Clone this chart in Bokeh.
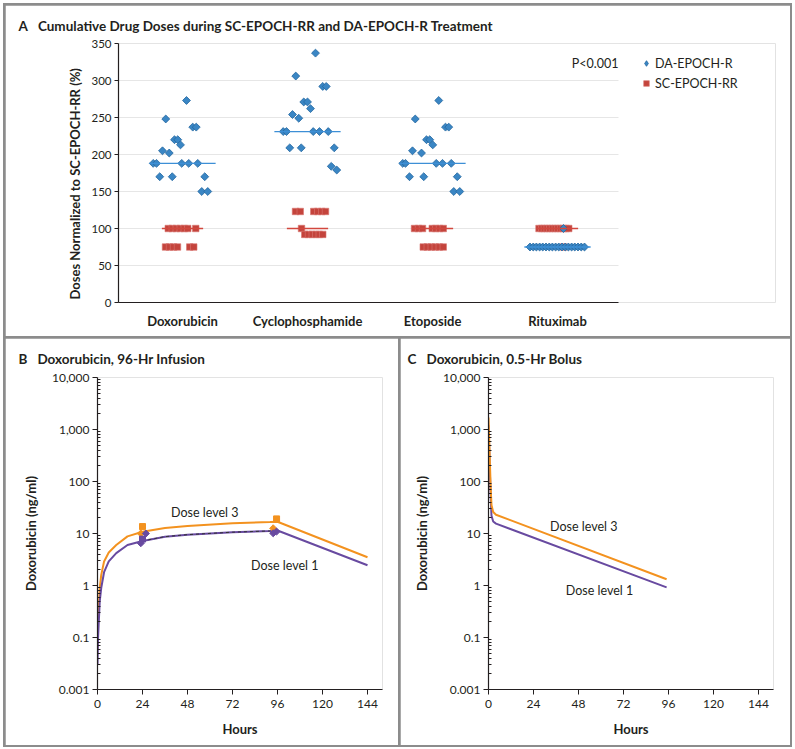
import math
from bokeh.plotting import figure
from bokeh.models import Range1d, FixedTicker, Label, Legend, LegendItem, ColumnDataSource, Title
from bokeh.layouts import column, row
from bokeh.embed import file_html
from bokeh.resources import INLINE

FONT = "Lato"
INK = "#231f20"
BLUE = "#3a86c4"
BLUE_EDGE = "#22669f"
BLUE_LINE = "#3d8fd6"
RED = "#c4443c"
RED_EDGE = "#d97670"
RED_LINE = "#d2473e"
ORANGE = "#f3921f"
PURPLE = "#684aa0"
GRID = "#e6e6e6"

# ---------------- Panel A data ----------------
categories = ["Doxorubicin", "Cyclophosphamide", "Etoposide", "Rituximab"]
a_yticks = [0, 50, 100, 150, 200, 250, 300, 350]

# DA-EPOCH-R (values in % of SC-EPOCH-RR, jitter as fraction of category spacing)
da_dox_vals = [273, 248, 237, 237, 220, 220, 213, 205, 202, 188, 188, 188, 188, 188, 170, 170, 170, 150, 150]
da_dox_jit = [0.032, -0.134, 0.082, 0.110, -0.064, -0.038, -0.016, -0.160, -0.106, -0.234, -0.208, -0.006, 0.050, 0.122, -0.182, -0.082, 0.178, 0.154, 0.202]
da_cyc_vals = [337, 306, 292, 292, 271, 271, 262, 254, 249, 231, 231, 231, 231, 231, 209, 209, 209, 184, 179]
da_cyc_jit = [0.064, -0.094, 0.122, 0.150, -0.030, 0.000, 0.024, -0.120, -0.070, -0.194, -0.168, 0.046, 0.096, 0.166, -0.142, -0.050, 0.214, 0.190, 0.234]
da_eto_vals = [273, 248, 237, 237, 220, 220, 213, 205, 202, 188, 188, 188, 188, 188, 170, 170, 170, 150, 150]
da_eto_jit = [0.050, -0.138, 0.104, 0.130, -0.048, -0.022, 0.002, -0.160, -0.088, -0.238, -0.216, 0.030, 0.080, 0.150, -0.184, -0.070, 0.198, 0.170, 0.218]
da_rit_vals = [100, 75, 75, 75, 75, 75, 75, 75, 75, 75, 75, 75, 75, 75, 75, 75, 75, 75, 75]
da_rit_jit = [0.048, -0.220, -0.194, -0.169, -0.143, -0.118, -0.092, -0.066, -0.041, -0.015, 0.010, 0.036, 0.062, 0.087, 0.113, 0.138, 0.164, 0.190, 0.216]

# SC-EPOCH-RR
sc_dox_vals = [100, 100, 100, 100, 100, 100, 100, 75, 75, 75, 75, 75, 75]
sc_dox_jit = [-0.114, -0.082, -0.050, -0.018, 0.014, 0.042, 0.106, -0.136, -0.104, -0.072, -0.040, 0.058, 0.090]
sc_cyc_vals = [123, 123, 123, 123, 123, 123, 100, 92, 92, 92, 92, 92, 92]
sc_cyc_jit = [-0.096, -0.058, 0.050, 0.082, 0.114, 0.144, -0.048, -0.022, 0.008, 0.038, 0.066, 0.094, 0.122]
sc_eto_vals = [100, 100, 100, 100, 100, 100, 100, 75, 75, 75, 75, 75, 75]
sc_eto_jit = [-0.144, -0.112, -0.080, -0.002, 0.026, 0.056, 0.086, -0.074, -0.042, -0.010, 0.022, 0.054, 0.086]
sc_rit_vals = [100, 100, 100, 100, 100, 100, 100, 100, 100, 100, 100, 100, 75]
sc_rit_jit = [-0.148, -0.126, -0.105, -0.083, -0.062, -0.040, -0.018, 0.003, 0.025, 0.046, 0.068, 0.090, 0.048]

da_medians = [188, 231, 188, 75]
sc_medians = [100, 100, 100, 100]

# ---------------- Panel B / C data ----------------
hour_ticks = [0, 24, 48, 72, 96, 120, 144]
conc_ticks = [0.01, 0.1, 1, 10, 100, 1000, 10000]
conc_labels = ["0.001", "0.1", "1", "10", "100", "1,000", "10,000"]

inf_hours = [0, 0.3, 1.2, 2.0, 3.5, 6, 10, 16, 24, 36, 48, 72, 92, 96, 144]
inf_level3 = [0.06, 0.2, 0.9, 1.6, 2.9, 4.3, 6.0, 8.8, 10.8, 12.8, 14.0, 15.7, 16.6, 16.8, 3.5]
inf_level1 = [0.03, 0.1, 0.5, 0.9, 1.8, 2.9, 4.2, 6.0, 7.2, 8.7, 9.5, 10.6, 11.2, 11.4, 2.45]
inf_dash_hours = [24, 36, 48, 72, 92]
inf_dash_vals = [7.2, 8.7, 9.5, 10.6, 11.2]

obs3_sq_hours = [24, 95.5]
obs3_sq_vals = [13.6, 19.1]
obs3_dm_hours = [23.1, 93.7]
obs3_dm_vals = [10.0, 12.6]
obs1_sq_hours = [24]
obs1_sq_vals = [7.8]
obs1_dm_hours = [23.1, 25.8, 93.7, 95.5]
obs1_dm_vals = [6.5, 10.0, 10.1, 10.9]

bol_hours = [0, 0.4, 0.8, 1.2, 1.6, 2.5, 4, 95]
bol_level3 = [1700, 600, 200, 70, 35, 26, 23, 1.32]
bol_level1 = [1200, 400, 130, 45, 22, 17, 15.5, 0.92]


def style_axis(ax, size="12px"):
    ax.axis_line_color = INK
    ax.axis_line_width = 1.2
    ax.major_tick_line_color = INK
    ax.minor_tick_line_color = INK
    ax.major_label_text_font = FONT
    ax.major_label_text_font_size = size
    ax.major_label_text_color = INK
    ax.axis_label_text_font = FONT
    ax.axis_label_text_font_style = "bold"
    ax.axis_label_text_font_size = "13px"
    ax.axis_label_text_color = INK


def add_label(p, x, y, text, size="12.5px", align="center"):
    p.add_layout(Label(x=x, y=y, text=text, text_font=FONT, text_font_size=size,
                       text_color=INK, text_align=align, text_baseline="middle"))


def add_title(p, text, offset, size, standoff, side="above"):
    p.add_layout(Title(text=text, align="left", offset=offset, standoff=standoff,
                       text_font=FONT, text_font_size=size, text_font_style="bold",
                       text_color=INK), side)


# ---------------- Panel A ----------------
A_LEFT, A_RIGHT = 0.488, 4.488          # data extent of the category axis
pA = figure(width=785, height=331, x_range=Range1d(A_LEFT, 5.744), y_range=Range1d(0, 350),
            output_backend="svg", toolbar_location=None, title=None,
            min_border_left=113, min_border_right=15, min_border_top=38, min_border_bottom=34,
            margin=(2, 2, 0, 2))
pA.outline_line_color = None
pA.xgrid.visible = False
pA.ygrid.visible = False
pA.segment(x0=[A_LEFT] * len(a_yticks), x1=[A_RIGHT] * len(a_yticks), y0=a_yticks, y1=a_yticks,
           line_color=GRID, line_width=1, level="underlay")
style_axis(pA.xaxis[0], "13px")
style_axis(pA.yaxis[0], "11.5px")
pA.xaxis.bounds = (A_LEFT, A_RIGHT)
pA.xaxis.ticker = FixedTicker(ticks=[1, 2, 3, 4])
pA.xaxis.major_label_overrides = {i + 1: c for i, c in enumerate(categories)}
pA.xaxis.major_label_text_font_style = "bold"
pA.xaxis.major_tick_line_color = None
pA.xaxis.minor_tick_line_color = None
pA.xaxis.major_label_standoff = 4
pA.yaxis.ticker = FixedTicker(ticks=a_yticks)
pA.yaxis.major_tick_out = 4
pA.yaxis.major_tick_in = 0
pA.yaxis.minor_tick_line_color = None
pA.yaxis.major_label_standoff = 3

da_sets = [(da_dox_vals, da_dox_jit), (da_cyc_vals, da_cyc_jit), (da_eto_vals, da_eto_jit), (da_rit_vals, da_rit_jit)]
sc_sets = [(sc_dox_vals, sc_dox_jit), (sc_cyc_vals, sc_cyc_jit), (sc_eto_vals, sc_eto_jit), (sc_rit_vals, sc_rit_jit)]

def build(sets):
    xs, ys = [], []
    for i, (vals, jit) in enumerate(sets):
        for v, j in zip(vals, jit):
            xs.append(i + 1 + j)
            ys.append(v)
    return ColumnDataSource(dict(x=xs, y=ys))

r_red = pA.scatter("x", "y", source=build(sc_sets), marker="square", size=6.5,
                   fill_color=RED, line_color=RED_EDGE, line_width=0.6)
r_blue = pA.scatter("x", "y", source=build(da_sets), marker="square", angle=math.pi / 4, size=5.6,
                    fill_color=BLUE, line_color=BLUE_EDGE, line_width=0.8)
centers = [i + 1 for i in range(len(categories))]
pA.segment(x0=[c - 0.265 for c in centers], x1=[c + 0.265 for c in centers],
           y0=da_medians, y1=da_medians, line_color=BLUE_LINE, line_width=1.3)
pA.segment(x0=[c - 0.165 for c in centers], x1=[c + 0.165 for c in centers],
           y0=sc_medians, y1=sc_medians, line_color=RED_LINE, line_width=1.3)

# legend keys (no visible data points; they only provide the legend glyphs)
key_blue = pA.scatter(x=[float("nan")], y=[float("nan")], marker="diamond", size=9,
                      fill_color=BLUE, line_color=BLUE_EDGE, line_width=0.8)
key_red = pA.scatter(x=[float("nan")], y=[float("nan")], marker="square", size=7,
                     fill_color=RED, line_color=RED_EDGE, line_width=0.6)

legend = Legend(items=[LegendItem(label="DA-EPOCH-R", renderers=[key_blue]),
                       LegendItem(label="SC-EPOCH-RR", renderers=[key_red])],
                location=(519, 208.7), padding=0, margin=0, spacing=0,
                glyph_width=18, glyph_height=14, label_height=20, label_standoff=0,
                label_text_font=FONT, label_text_font_size="12.5px", label_text_color=INK,
                border_line_color=None, background_fill_alpha=0)
pA.add_layout(legend)

add_title(pA, "A\u2002 Cumulative Drug Doses during SC-EPOCH-RR and DA-EPOCH-R Treatment",
          -100, "13.5px", 20)
add_title(pA, "Doses Normalized to SC-EPOCH-RR (%)", 3, "13px", 12, side="left")
add_label(pA, A_RIGHT, 322.6, "P<0.001", align="right")


# ---------------- Panels B, C ----------------
def conc_figure(width, min_left, min_right, margin):
    p = figure(width=width, height=407, x_range=Range1d(0, 152),
               y_range=Range1d(0.01, 10000), y_axis_type="log",
               output_backend="svg", toolbar_location=None, title=None,
               min_border_left=min_left, min_border_right=min_right, min_border_top=38,
               min_border_bottom=56, margin=margin)
    p.outline_line_color = None
    p.xgrid.visible = False
    p.ygrid.visible = False
    style_axis(p.xaxis[0])
    style_axis(p.yaxis[0])
    p.xaxis.ticker = FixedTicker(ticks=hour_ticks)
    p.xaxis.major_tick_out = 5
    p.xaxis.major_tick_in = 0
    p.xaxis.minor_tick_line_color = None
    p.xaxis.major_label_standoff = 5
    p.xaxis.axis_label = "Hours"
    p.xaxis.axis_label_standoff = 10
    minor = [m * t for t in conc_ticks[:-1] for m in range(2, 10)]
    p.yaxis.ticker = FixedTicker(ticks=conc_ticks, minor_ticks=minor)
    p.yaxis.major_label_overrides = dict(zip(conc_ticks, conc_labels))
    p.yaxis.major_tick_out = 5
    p.yaxis.major_tick_in = 0
    p.yaxis.minor_tick_out = 0
    p.yaxis.minor_tick_in = 3
    p.yaxis.major_label_standoff = 3
    p.yaxis.axis_label = "Doxorubicin (ng/ml)"
    p.yaxis.axis_label_standoff = 10
    return p


pB = conc_figure(393, 92, 16, (2, 0, 2, 2))
pB.line(inf_hours, inf_level3, line_color=ORANGE, line_width=2)
pB.line(inf_hours, inf_level1, line_color=PURPLE, line_width=2)
pB.line(inf_dash_hours, inf_dash_vals, line_color="#333333", line_width=1, line_dash="3 3")
pB.scatter(obs3_sq_hours, obs3_sq_vals, marker="square", size=6, color=ORANGE)
pB.scatter(obs3_dm_hours, obs3_dm_vals, marker="square", angle=math.pi / 4, size=5, color=ORANGE)
pB.scatter(obs1_sq_hours, obs1_sq_vals, marker="square", size=6, color=PURPLE)
pB.scatter(obs1_dm_hours, obs1_dm_vals, marker="square", angle=math.pi / 4, size=5, color=PURPLE)
add_title(pB, "B\u2002 Doxorubicin, 96-Hr Infusion", -79, "13.5px", 21)
add_label(pB, 57.2, 25.8, "Dose level 3")
add_label(pB, 99.9, 2.45, "Dose level 1")

pC = conc_figure(390, 88, 17, (2, 2, 2, 2))
pC.line(bol_hours, bol_level1, line_color=PURPLE, line_width=2)
pC.line(bol_hours, bol_level3, line_color=ORANGE, line_width=2)
add_title(pC, "C\u2002 Doxorubicin, 0.5-Hr Bolus", -81, "13.5px", 21)
add_label(pC, 50.8, 13.9, "Dose level 3")
add_label(pC, 59.2, 0.815, "Dose level 1")

layout = column(pA, row(pB, pC, spacing=0), spacing=0, margin=(3, 0, 0, 3),
                styles={"background-color": "#8c8c8c"})

open("out.html", "w").write(file_html(layout, INLINE))
